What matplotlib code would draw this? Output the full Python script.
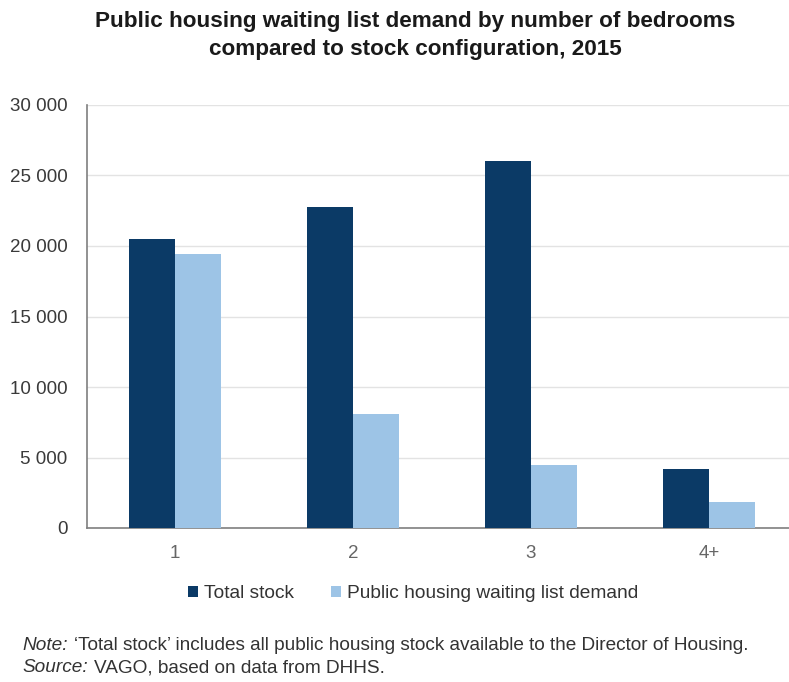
import matplotlib
matplotlib.use("Agg")
import matplotlib.pyplot as plt
import numpy as np
from matplotlib.ticker import FuncFormatter

categories = ["1", "2", "3", "4+"]
total_stock = [20500, 22750, 26050, 4200]
waiting_demand = [19450, 8050, 4450, 1850]
yticks = [0, 5000, 10000, 15000, 20000, 25000, 30000]

plt.rcParams['font.family'] = ['Liberation Sans', 'DejaVu Sans']

fig = plt.figure(figsize=(7.89, 6.82), dpi=100)
ax = fig.add_axes([87/789, 1-528/682, 702/789, 423/682])

x = np.arange(len(categories))
w = 0.258
dark = "#0b3a66"
light = "#9dc4e6"
ax.bar(x - w/2, total_stock, w, color=dark, label="Total stock", zorder=3)
ax.bar(x + w/2, waiting_demand, w, color=light, label="Public housing waiting list demand", zorder=3)

ax.set_xlim(-88/178, 3 + 80/178)
ax.set_ylim(0, 30000)
ax.set_yticks(yticks)
ax.yaxis.set_major_formatter(FuncFormatter(lambda v, p: f"{int(v):,}".replace(",", " ")))
ax.set_xticks(x)
ax.set_xticklabels(categories)
ax.grid(axis='y', color='#e3e3e3', linewidth=1, zorder=0)
for s in ['top', 'right']:
    ax.spines[s].set_visible(False)
ax.spines['left'].set_color('#7f7f7f')
ax.spines['bottom'].set_color('#7f7f7f')
ax.spines['left'].set_linewidth(1.2)
ax.spines['bottom'].set_linewidth(1.2)
ax.tick_params(axis='both', length=0, labelsize=13.5)
ax.tick_params(axis='x', pad=12, labelcolor='#666666')
ax.tick_params(axis='y', pad=14, labelcolor='#3a3a3a')

fig.text(415/789, 1-22/682, "Public housing waiting list demand by number of bedrooms",
         ha='center', va='center', fontsize=16.2, fontweight='bold', color='#1a1a1a')
fig.text(415/789, 1-50/682, "compared to stock configuration, 2015",
         ha='center', va='center', fontsize=16.2, fontweight='bold', color='#1a1a1a')

leg = fig.legend(loc='center', bbox_to_anchor=(413/789, 1-594/682), ncol=2, frameon=False,
                 fontsize=13.8, handlelength=0.55, handleheight=0.55, handletextpad=0.3,
                 columnspacing=1.9)
for t in leg.get_texts():
    t.set_color('#333333')

fig.canvas.draw()
r = fig.canvas.get_renderer()

def two_part(xpix, ypix, a, b):
    t1 = fig.text(xpix/789, 1-ypix/682, a, fontsize=13.7, style='italic', color='#333333', va='center')
    bb = t1.get_window_extent(renderer=r)
    fig.text((bb.x1 + 6)/789, 1-ypix/682, b, fontsize=13.7, color='#333333', va='center')

two_part(22, 645, "Note:", "\u2018Total stock\u2019 includes all public housing stock available to the Director of Housing.")
two_part(22, 668, "Source:", "VAGO, based on data from DHHS.")

fig.savefig("out.png", dpi=100)
